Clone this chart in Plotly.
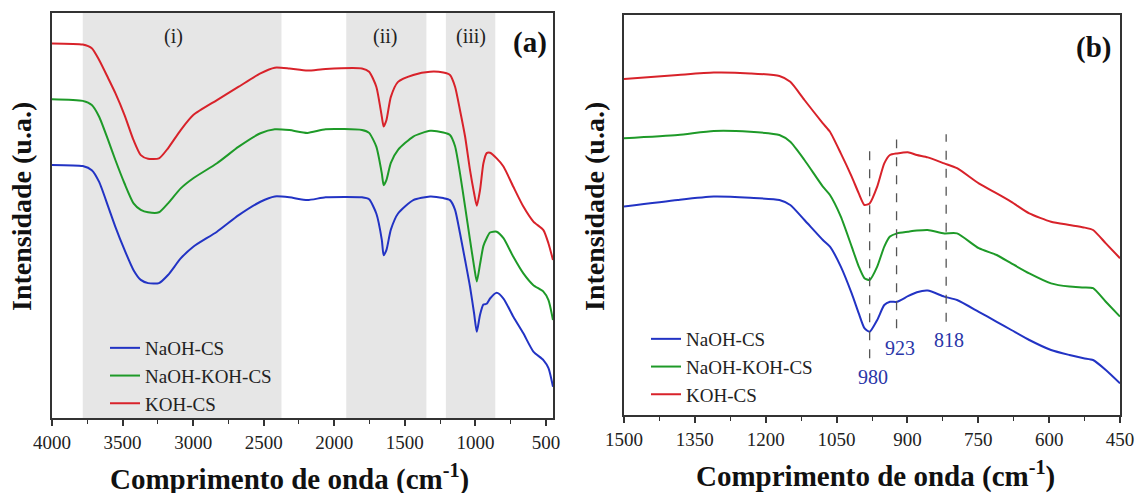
import plotly.graph_objects as go

# ---------------- Data: panel (a) ----------------
wn_a = [4000, 3782, 3718, 3666, 3602, 3551, 3486, 3422, 3371, 3319, 3242, 3178, 3088, 2999,
        2831, 2677, 2523, 2421, 2318, 2190, 2061, 1804, 1753, 1702, 1663, 1650, 1630, 1599,
        1548, 1440, 1321, 1227, 1180, 1144, 1109, 1073, 1038, 1009, 990, 967, 943, 920, 896,
        849, 801, 731, 660, 589, 518, 482, 450]
koh_a = [92.5, 92.2, 91.3, 88.4, 83.9, 80.2, 74.8, 68.6, 64.9, 64.0, 64.1, 66.6, 71.1, 74.8,
         78.5, 81.8, 85.1, 86.5, 86.3, 85.8, 86.2, 86.3, 85.5, 81.8, 74.4, 72.0, 73.6, 79.3,
         83.0, 84.7, 85.5, 85.3, 84.7, 81.8, 76.0, 69.5, 61.2, 55.5, 52.4, 56.3, 62.9, 65.4, 65.5,
         64.1, 62.1, 57.1, 52.2, 48.5, 46.4, 43.1, 39.0]
naoh_koh_a = [78.7, 78.3, 77.3, 74.4, 68.6, 63.7, 57.9, 53.0, 51.4, 50.8, 50.8, 53.0, 56.7, 59.2,
              62.9, 67.0, 70.3, 71.3, 71.1, 70.4, 71.3, 71.1, 70.4, 67.0, 60.4, 57.5, 58.8, 63.0,
              66.2, 69.5, 70.9, 70.5, 69.9, 67.1, 60.4, 52.2, 44.0, 37.4, 33.7, 38.0, 42.5, 44.4, 45.8,
              46.0, 44.4, 39.8, 35.7, 32.8, 31.2, 29.1, 24.2]
naoh_a = [62.5, 62.2, 61.2, 58.3, 52.2, 47.2, 41.5, 36.5, 34.1, 33.3, 33.3, 35.3, 39.4, 42.3,
          46.0, 50.1, 53.4, 54.7, 54.5, 53.8, 54.5, 54.5, 54.0, 50.5, 44.0, 40.2, 41.5, 46.5,
          50.5, 53.8, 54.7, 54.3, 53.8, 51.4, 45.6, 39.0, 32.4, 25.8, 21.3, 25.5, 28.0, 28.2, 29.5,
          30.9, 29.5, 25.0, 20.9, 16.4, 14.3, 12.3, 7.7]

# ---------------- Data: panel (b) ----------------
wn_b = [1500, 1386, 1310, 1233, 1171, 1148, 1118, 1079, 1064, 1041, 1018, 1003, 991, 980,
        964, 949, 937, 922, 899, 880, 857, 822, 795, 749, 711, 680, 642, 596, 557, 527,
        507, 480, 450]
koh_b = [84.0, 85.0, 85.6, 85.4, 84.75, 83.3, 78.75, 72.9, 70.8, 65.4, 59.6, 55.4, 52.5, 52.9,
         57.1, 62.9, 65.0, 65.4, 65.7, 65.0, 64.4, 62.9, 61.7, 57.9, 55.4, 53.3, 50.4, 48.3, 47.5,
         46.9, 46.25, 42.9, 39.2]
naoh_koh_b = [69.2, 70.0, 71.0, 70.8, 70.0, 68.3, 63.75, 57.1, 55.0, 49.6, 42.1, 37.1, 34.2, 33.75,
              37.1, 42.1, 44.6, 45.4, 45.8, 46.1, 46.25, 45.4, 45.4, 41.7, 40.0, 37.9, 35.4, 32.9,
              32.1, 31.9, 31.7, 28.3, 24.6]
naoh_b = [52.1, 53.75, 54.6, 54.3, 53.75, 52.5, 48.75, 43.75, 42.1, 37.1, 30.4, 25.4, 21.7, 20.8,
          23.75, 27.5, 28.3, 28.3, 29.7, 30.7, 31.1, 29.6, 28.75, 25.8, 23.3, 21.25, 18.75, 16.25,
          15.0, 14.2, 13.75, 11.25, 7.9]

series_names = ["NaOH-CS", "NaOH-KOH-CS", "KOH-CS"]
series_colors = ["#2233c4", "#1e9a28", "#d8222a"]

# shaded regions of panel (a)
regions = [(3782, 2374), (1915, 1347), (1209, 859)]
region_labels = ["(i)", "(ii)", "(iii)"]
region_label_x = [3140, 1637, 1034]

# marked peaks in panel (b)
peak_positions = [980, 923, 818]
peak_labels = ["980", "923", "818"]
peak_line_top = [67.5, 68.9, 70.2]
peak_line_bottom = [14.2, 21.7, 23.3]
peak_label_x = [972, 916, 812]
peak_label_y = [9.6, 16.7, 18.75]

FONT = "Liberation Serif, Times New Roman, serif"
AXC = "#333333"

fig = go.Figure()

for name, color, ys in zip(series_names, series_colors, [naoh_a, naoh_koh_a, koh_a]):
    fig.add_trace(go.Scatter(x=wn_a, y=ys, mode="lines", name=name,
                             line=dict(color=color, width=2, shape="spline", smoothing=0.6),
                             xaxis="x", yaxis="y", legend="legend"))
for name, color, ys in zip(series_names, series_colors, [naoh_b, naoh_koh_b, koh_b]):
    fig.add_trace(go.Scatter(x=wn_b, y=ys, mode="lines", name=name,
                             line=dict(color=color, width=2, shape="spline", smoothing=0.6),
                             xaxis="x2", yaxis="y2", legend="legend2"))

shapes = []
for (x0, x1) in regions:
    shapes.append(dict(type="rect", xref="x", yref="y domain", x0=x0, x1=x1, y0=0, y1=1,
                       fillcolor="#e6e6e6", line=dict(width=0), layer="below"))
for p, yt, yb in zip(peak_positions, peak_line_top, peak_line_bottom):
    shapes.append(dict(type="line", xref="x2", yref="y2", x0=p, x1=p, y0=yb, y1=yt,
                       line=dict(color="#555555", width=1.3, dash="dash")))

annotations = []
for lab, lx in zip(region_labels, region_label_x):
    annotations.append(dict(x=lx, y=94.3, xref="x", yref="y", text=lab, showarrow=False,
                            font=dict(family=FONT, size=20, color="#222")))
for lab, lx, ly in zip(peak_labels, peak_label_x, peak_label_y):
    annotations.append(dict(x=lx, y=ly, xref="x2", yref="y2", text=lab, showarrow=False,
                            font=dict(family=FONT, size=20, color="#2a36a8")))
annotations += [
    dict(x=612, y=92.6, xref="x", yref="y", text="<b>(a)</b>", showarrow=False,
         font=dict(family=FONT, size=29, color="#111")),
    dict(x=507, y=92.0, xref="x2", yref="y2", text="<b>(b)</b>", showarrow=False,
         font=dict(family=FONT, size=29, color="#111")),
    dict(x=289 / 1137, y=1 - 477 / 493, xref="paper", yref="paper",
         text="<b>Comprimento de onda (cm<sup>-1</sup>)</b>", showarrow=False,
         xanchor="center", yanchor="middle", font=dict(family=FONT, size=29, color="#111")),
    dict(x=875 / 1137, y=1 - 474 / 493, xref="paper", yref="paper",
         text="<b>Comprimento de onda (cm<sup>-1</sup>)</b>", showarrow=False,
         xanchor="center", yanchor="middle", font=dict(family=FONT, size=29, color="#111")),
    dict(x=22 / 1137, y=1 - 207 / 493, xref="paper", yref="paper",
         text="<b>Intensidade (u.a.)</b>", showarrow=False, textangle=-90,
         xanchor="center", yanchor="middle", font=dict(family=FONT, size=28, color="#111")),
    dict(x=595 / 1137, y=1 - 207 / 493, xref="paper", yref="paper",
         text="<b>Intensidade (u.a.)</b>", showarrow=False, textangle=-90,
         xanchor="center", yanchor="middle", font=dict(family=FONT, size=28, color="#111")),
]

def xaxis_style(domain, rng, dtick, minor_dtick, tick0, anchor):
    return dict(domain=domain, range=rng, autorange=False, anchor=anchor,
                tickmode="linear", tick0=tick0, dtick=dtick,
                ticks="outside", ticklen=6, tickwidth=1.5, tickcolor=AXC,
                minor=dict(dtick=minor_dtick, ticks="outside", ticklen=4, tickwidth=1.2,
                           tickcolor=AXC, showgrid=False),
                showline=True, linecolor=AXC, linewidth=1.5, mirror=True,
                showgrid=False, zeroline=False, automargin=False,
                tickfont=dict(family=FONT, size=19, color="#222"))

def yaxis_style(domain, anchor):
    return dict(domain=domain, range=[0, 100], autorange=False, anchor=anchor,
                showticklabels=False, ticks="", showgrid=False, zeroline=False,
                automargin=False,
                showline=True, linecolor=AXC, linewidth=1.5, mirror=True)

fig.update_layout(
    width=1137, height=493, autosize=False,
    margin=dict(l=0, r=0, t=0, b=0, pad=0, autoexpand=False),
    paper_bgcolor="white", plot_bgcolor="white",
    font=dict(family=FONT),
    xaxis=xaxis_style([52 / 1137, 553 / 1137], [4000, 450], 500, 250, 500, "y"),
    yaxis=yaxis_style([1 - 418 / 493, 1 - 13 / 493], "x"),
    xaxis2=xaxis_style([624 / 1137, 1120 / 1137], [1500, 450], 150, 75, 450, "y2"),
    yaxis2=yaxis_style([1 - 415 / 493, 1 - 15 / 493], "x2"),
    shapes=shapes,
    annotations=annotations,
    legend=dict(x=105 / 1137, y=1 - 329 / 493, xanchor="left", yanchor="top",
                bgcolor="rgba(0,0,0,0)", font=dict(family=FONT, size=19, color="#222"),
                tracegroupgap=0, itemwidth=30),
    legend2=dict(x=646 / 1137, y=1 - 320 / 493, xanchor="left", yanchor="top",
                 bgcolor="rgba(0,0,0,0)", font=dict(family=FONT, size=19, color="#222"),
                 tracegroupgap=0, itemwidth=30),
    showlegend=True,
)

fig.write_html("out.html")
